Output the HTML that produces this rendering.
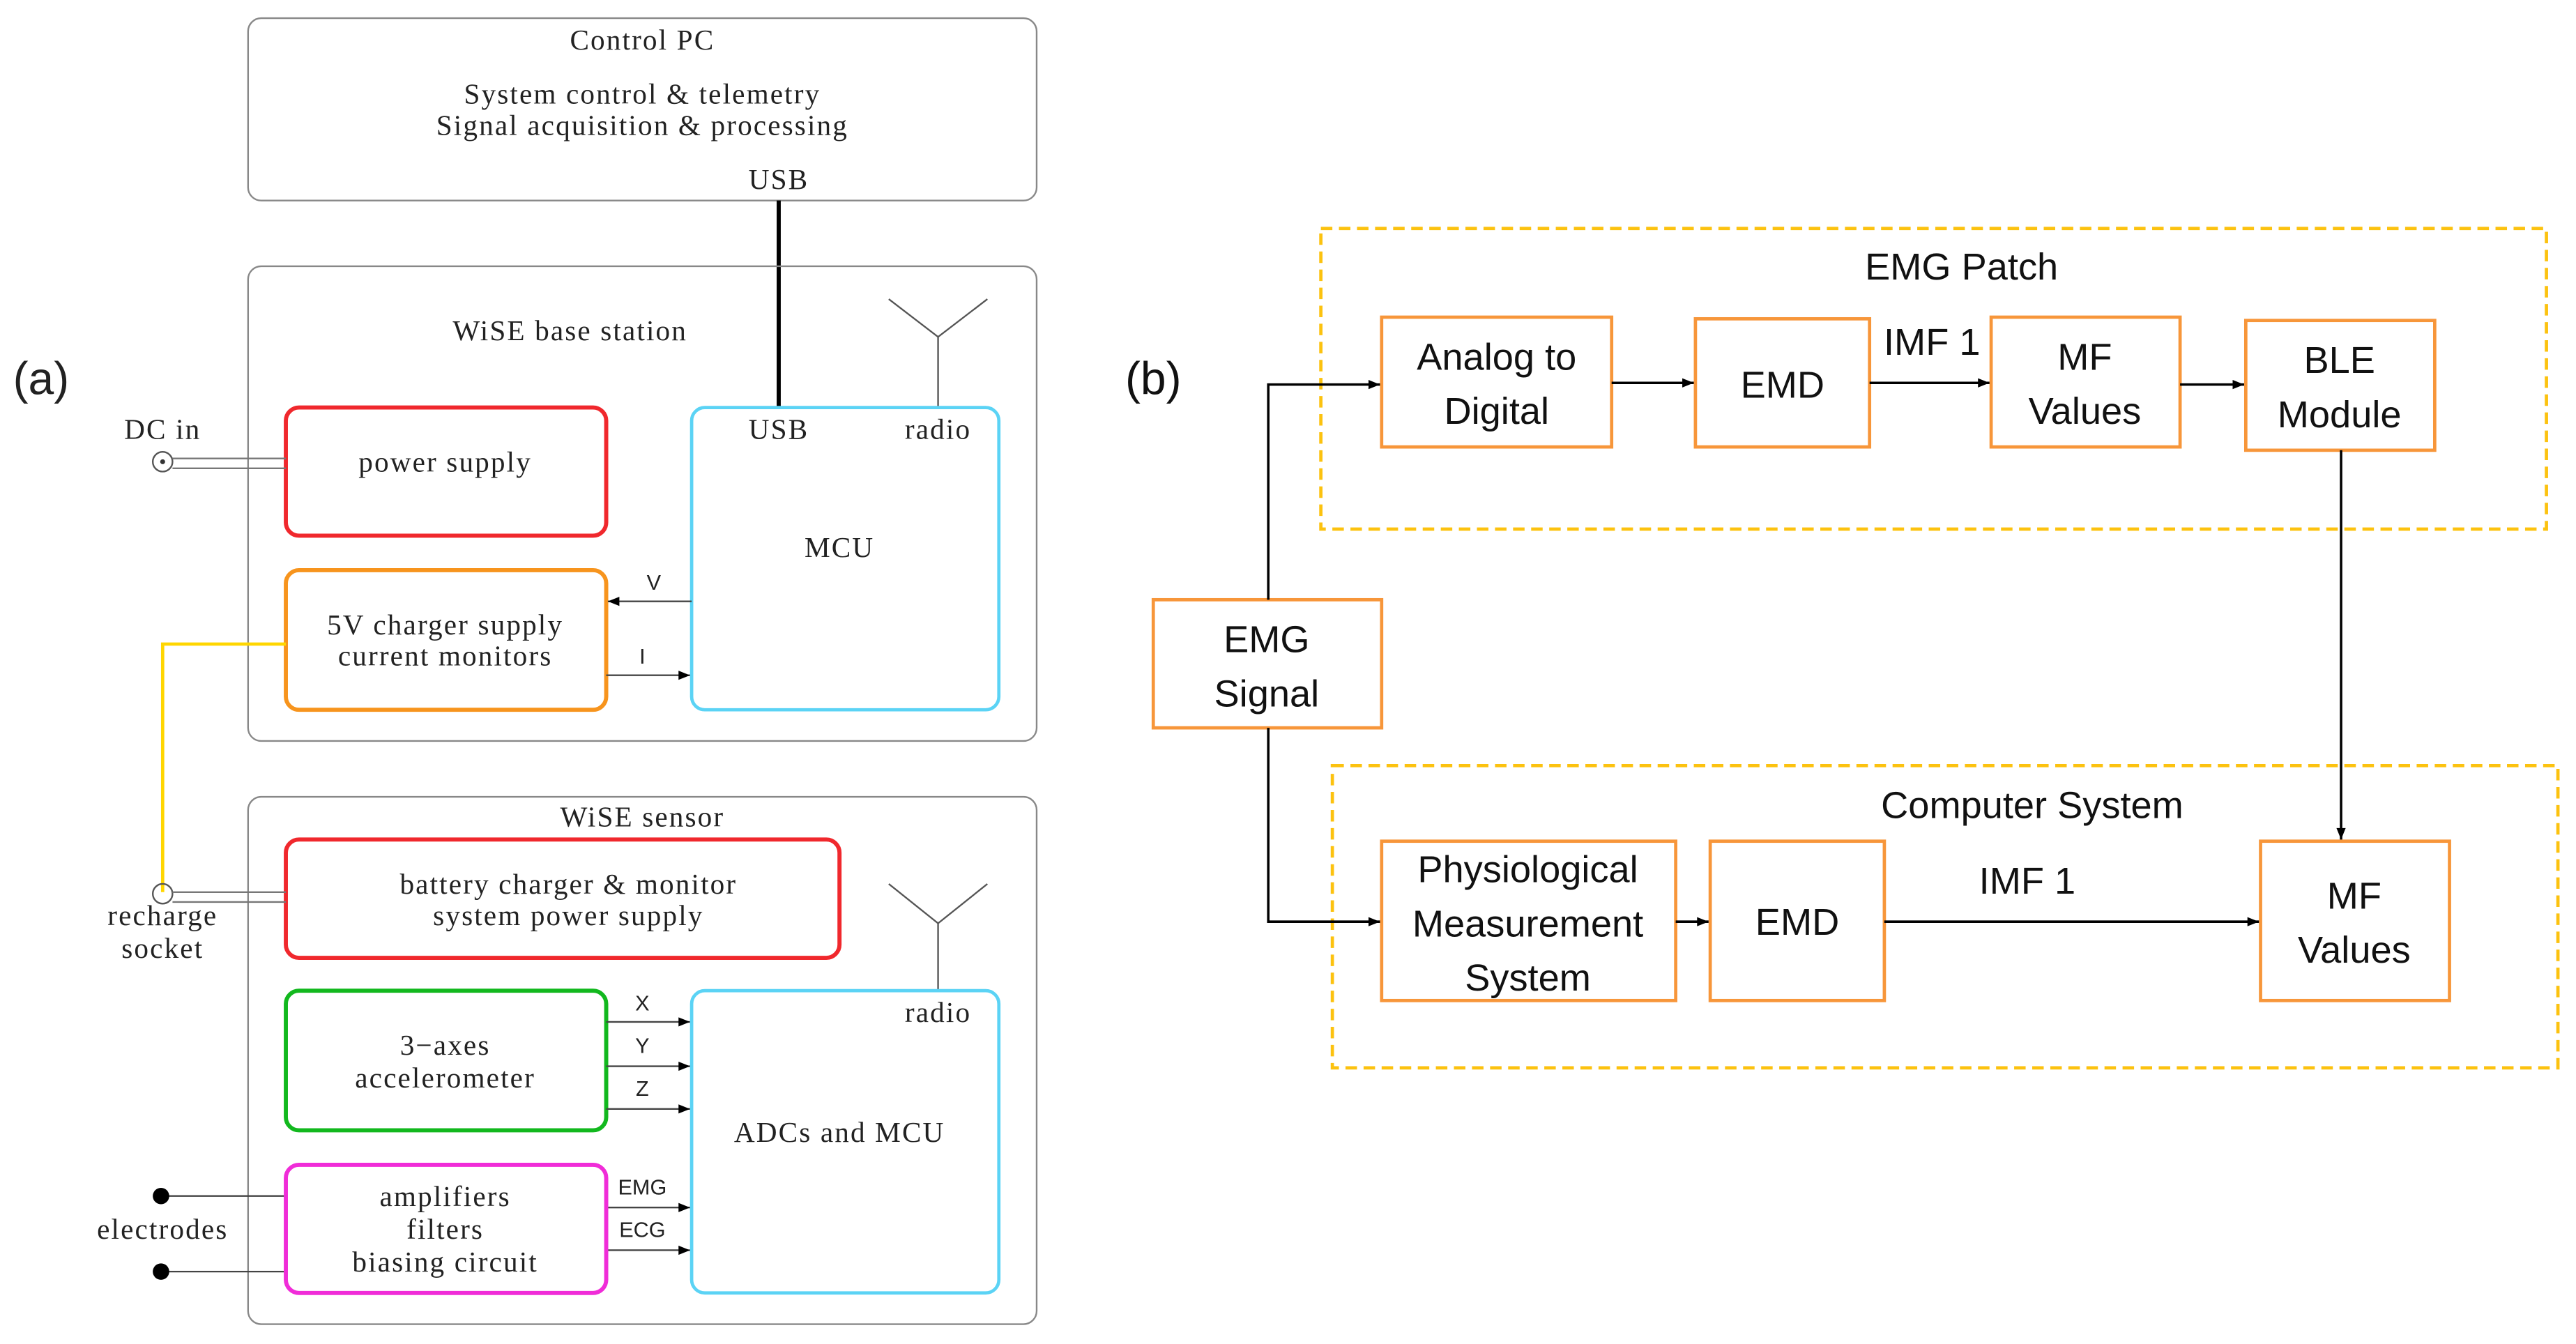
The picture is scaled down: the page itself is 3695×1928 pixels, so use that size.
<!DOCTYPE html>
<html><head><meta charset="utf-8"><style>html,body{margin:0;padding:0;background:#fff}svg{display:block}</style></head><body>
<svg width="3695" height="1928" viewBox="0 0 1568 818" xmlns="http://www.w3.org/2000/svg">
<defs>
<marker id="ah" viewBox="0 0 10 10" refX="10" refY="5" markerWidth="9" markerHeight="7" markerUnits="userSpaceOnUse" orient="auto"><path d="M0,1 L10,5 L0,9 z" fill="#000"/></marker>
</defs>
<g font-family="Liberation Serif, serif" font-size="17.5" letter-spacing="0.9" fill="#222" text-anchor="middle">
<text x="25" y="240" font-family="Liberation Sans, sans-serif" font-size="28" letter-spacing="0">(a)</text>
<rect x="151" y="11" width="480" height="111" rx="8" fill="none" stroke="#888" stroke-width="1"/>
<text x="391" y="30">Control PC</text>
<text x="391" y="63">System control &amp; telemetry</text>
<text x="391" y="82">Signal acquisition &amp; processing</text>
<text x="474" y="115">USB</text>
<line x1="474" y1="122" x2="474" y2="248" stroke="#000" stroke-width="2.5"/>
<rect x="151" y="162" width="480" height="289" rx="8" fill="none" stroke="#888" stroke-width="1"/>
<text x="347" y="207">WiSE base station</text>
<path d="M541,182 L571,205 L601,182 M571,205 L571,248" fill="none" stroke="#555" stroke-width="1"/>
<rect x="174" y="248" width="195" height="78" rx="8" fill="none" stroke="#f0282d" stroke-width="2.5"/>
<text x="271" y="287">power supply</text>
<text x="99" y="267">DC in</text>
<circle cx="99" cy="281" r="6" fill="#fff" stroke="#555"/><circle cx="99" cy="281" r="1.5" fill="#333"/>
<path d="M105,279 H174 M105,285 H174" stroke="#777" stroke-width="1"/>
<rect x="174" y="347" width="195" height="85" rx="8" fill="none" stroke="#f7941d" stroke-width="2.5"/>
<text x="271" y="386">5V charger supply</text>
<text x="271" y="405">current monitors</text>
<rect x="421" y="248" width="187" height="184" rx="8" fill="none" stroke="#5bd3f5" stroke-width="2"/>
<text x="474" y="267">USB</text><text x="571" y="267">radio</text>
<text x="511" y="339">MCU</text>
<line x1="421" y1="366" x2="370" y2="366" stroke="#444" stroke-width="1" marker-end="url(#ah)"/>
<text x="398" y="359" font-family="Liberation Sans, sans-serif" font-size="13" letter-spacing="0">V</text>
<line x1="369" y1="411" x2="420" y2="411" stroke="#444" stroke-width="1" marker-end="url(#ah)"/>
<text x="391" y="404" font-family="Liberation Sans, sans-serif" font-size="13" letter-spacing="0">I</text>
<path d="M174,392 H99 V543" fill="none" stroke="#ffd600" stroke-width="2"/>
<rect x="151" y="485" width="480" height="321" rx="8" fill="none" stroke="#888" stroke-width="1"/>
<text x="391" y="503">WiSE sensor</text>
<rect x="174" y="511" width="337" height="72" rx="8" fill="none" stroke="#f0282d" stroke-width="2.5"/>
<text x="346" y="544">battery charger &amp; monitor</text>
<text x="346" y="563">system power supply</text>
<circle cx="99" cy="544" r="6" fill="none" stroke="#555"/>
<path d="M105,543 H174 M105,549 H174" stroke="#777" stroke-width="1"/>
<text x="99" y="563">recharge</text><text x="99" y="583">socket</text>
<path d="M541,538 L571,562 L601,538 M571,562 L571,603" fill="none" stroke="#555" stroke-width="1"/>
<rect x="174" y="603" width="195" height="85" rx="8" fill="none" stroke="#12b81e" stroke-width="2.5"/>
<text x="271" y="642">3−axes</text><text x="271" y="662">accelerometer</text>
<rect x="421" y="603" width="187" height="184" rx="8" fill="none" stroke="#5bd3f5" stroke-width="2"/>
<text x="571" y="622">radio</text>
<text x="511" y="695">ADCs and MCU</text>
<g stroke="#444" stroke-width="1">
<line x1="369" y1="622" x2="420" y2="622" marker-end="url(#ah)"/>
<line x1="369" y1="649" x2="420" y2="649" marker-end="url(#ah)"/>
<line x1="369" y1="675" x2="420" y2="675" marker-end="url(#ah)"/>
<line x1="369" y1="735" x2="420" y2="735" marker-end="url(#ah)"/>
<line x1="369" y1="761" x2="420" y2="761" marker-end="url(#ah)"/>
<line x1="98" y1="728" x2="174" y2="728"/>
<line x1="98" y1="774" x2="174" y2="774"/>
</g>
<g font-family="Liberation Sans, sans-serif" font-size="13" letter-spacing="0">
<text x="391" y="615">X</text><text x="391" y="641">Y</text><text x="391" y="667">Z</text>
<text x="391" y="727">EMG</text><text x="391" y="753">ECG</text>
</g>
<rect x="174" y="709" width="195" height="78" rx="8" fill="none" stroke="#f02cd8" stroke-width="2.5"/>
<text x="271" y="734">amplifiers</text><text x="271" y="754">filters</text><text x="271" y="774">biasing circuit</text>
<circle cx="98" cy="728" r="5" fill="#000"/><circle cx="98" cy="774" r="5" fill="#000"/>
<text x="99" y="754">electrodes</text>
</g>
<g font-family="Liberation Sans Narrow, Liberation Sans, sans-serif" font-size="23" fill="#111" text-anchor="middle">
<text x="702" y="240" font-family="Liberation Sans, sans-serif" font-size="28">(b)</text>
<rect x="804" y="139" width="746" height="183" fill="none" stroke="#fcc20f" stroke-width="2" stroke-dasharray="7,4"/>
<text x="1194" y="170">EMG Patch</text>
<rect x="811" y="466" width="746" height="184" fill="none" stroke="#fcc20f" stroke-width="2" stroke-dasharray="7,4"/>
<text x="1237" y="498">Computer System</text>
<g fill="#fff" stroke="#f7963a" stroke-width="2">
<rect x="841" y="193" width="140" height="79"/>
<rect x="1032" y="194" width="106" height="78"/>
<rect x="1212" y="193" width="115" height="79"/>
<rect x="1367" y="195" width="115" height="79"/>
<rect x="702" y="365" width="139" height="78"/>
<rect x="841" y="512" width="179" height="97"/>
<rect x="1041" y="512" width="106" height="97"/>
<rect x="1376" y="512" width="115" height="97"/>
</g>
<text x="911" y="225">Analog to</text><text x="911" y="258">Digital</text>
<text x="1085" y="242">EMD</text>
<text x="1269" y="225">MF</text><text x="1269" y="258">Values</text>
<text x="1424" y="227">BLE</text><text x="1424" y="260">Module</text>
<text x="771" y="397">EMG</text><text x="771" y="430">Signal</text>
<text x="930" y="537">Physiological</text><text x="930" y="570">Measurement</text><text x="930" y="603">System</text>
<text x="1094" y="569">EMD</text>
<text x="1433" y="553">MF</text><text x="1433" y="586">Values</text>
<text x="1176" y="216">IMF 1</text>
<text x="1234" y="544">IMF 1</text>
<g stroke="#000" stroke-width="1.5" fill="none">
<path d="M772,365 V234 H840" marker-end="url(#ah)"/>
<path d="M772,443 V561 H840" marker-end="url(#ah)"/>
<line x1="981" y1="233" x2="1031" y2="233" marker-end="url(#ah)"/>
<line x1="1138" y1="233" x2="1211" y2="233" marker-end="url(#ah)"/>
<line x1="1327" y1="234" x2="1366" y2="234" marker-end="url(#ah)"/>
<line x1="1020" y1="561" x2="1040" y2="561" marker-end="url(#ah)"/>
<line x1="1147" y1="561" x2="1375" y2="561" marker-end="url(#ah)"/>
<line x1="1425" y1="274" x2="1425" y2="511" marker-end="url(#ah)"/>
</g>
</g>
</svg>
</body></html>
